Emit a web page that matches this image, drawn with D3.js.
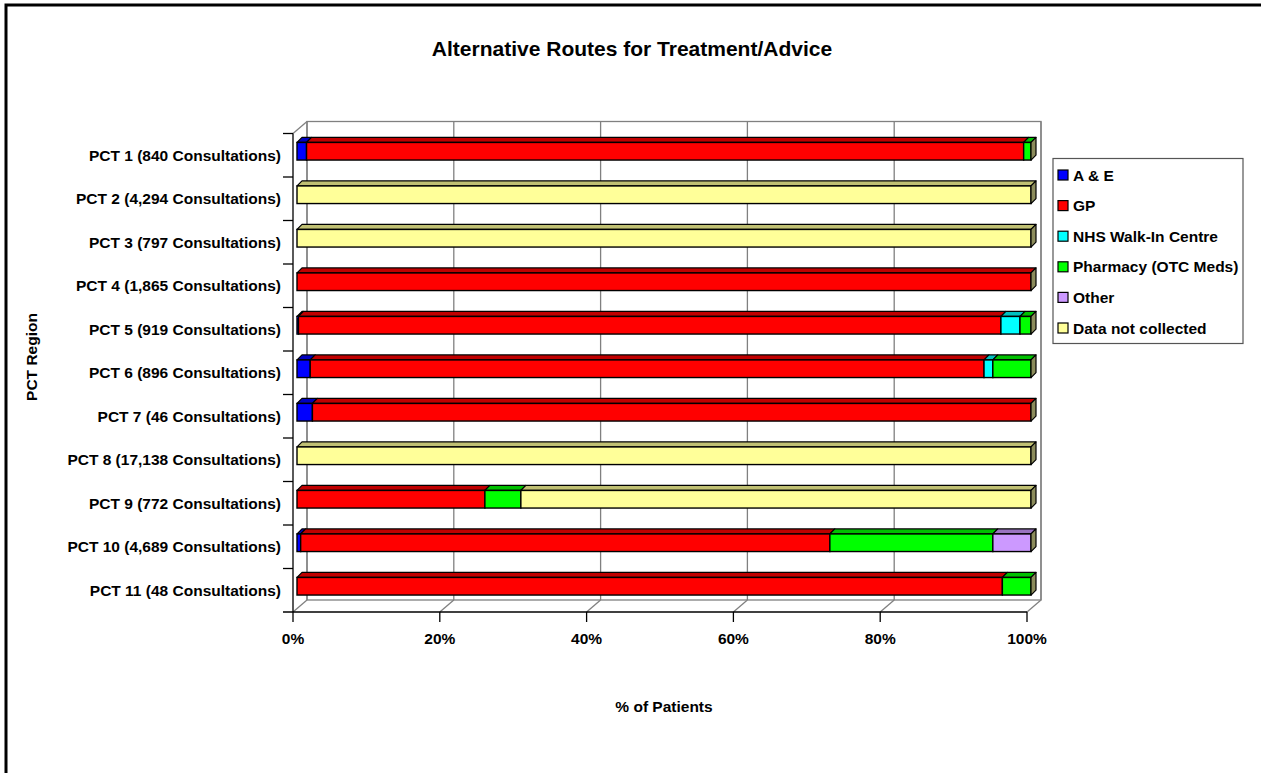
<!DOCTYPE html>
<html><head><meta charset="utf-8">
<script src="https://cdn.jsdelivr.net/npm/d3@7"></script>
<style>body{margin:0;background:#fff}svg{display:block}text{font-family:Arial,"Liberation Sans",sans-serif;font-weight:bold;fill:#000}</style>
</head><body>
<svg id="c" width="1261" height="773"></svg>
<script>
const categories = ["PCT 1 (840 Consultations)","PCT 2 (4,294 Consultations)","PCT 3 (797 Consultations)","PCT 4 (1,865 Consultations)","PCT 5 (919 Consultations)","PCT 6 (896 Consultations)","PCT 7 (46 Consultations)","PCT 8 (17,138 Consultations)","PCT 9 (772 Consultations)","PCT 10 (4,689 Consultations)","PCT 11 (48 Consultations)"];
const seriesNames = ["A & E","GP","NHS Walk-In Centre","Pharmacy (OTC Meds)","Other","Data not collected"];
const aeVals       = [1.3, 0, 0, 0,   0.2, 1.8, 2.1, 0, 0,    0.5, 0];
const gpVals       = [97.7,0, 0, 100, 95.7,91.8,97.9,0, 25.6, 72.1,96.1];
const walkInVals   = [0,   0, 0, 0,   2.6, 1.2, 0,   0, 0,    0,   0];
const pharmacyVals = [1.0, 0, 0, 0,   1.5, 5.2, 0,   0, 4.9,  22.2,3.9];
const otherVals    = [0,   0, 0, 0,   0,   0,   0,   0, 0,    5.2, 0];
const dncVals      = [0, 100,100, 0,  0,   0,   0, 100, 69.5, 0,   0];
const tickValues = [0,20,40,60,80,100];
const tickLabels = ["0%","20%","40%","60%","80%","100%"];
const titleText = "Alternative Routes for Treatment/Advice";
const xTitle = "% of Patients";
const yTitle = "PCT Region";

const frontColors = ["#0000FF","#FF0000","#00FFFF","#00FF00","#CC99FF","#FFFF99"];
const topColors   = ["#0000C0","#C00000","#00C0C0","#00C000","#9973C0","#C0C073"];
const sideColor = "#8C8C5C";

const svg = d3.select("#c");
const L=293,R=1027,T=133.5,B=612, DX=14, DY=-12;
const x = d3.scaleLinear().domain([0,100]).range([L,R]);
const y = d3.scaleBand().domain(categories).range([T,B]).paddingInner(0);

// frame
svg.append("path").attr("d","M6,773 L6,5 L1261,5").attr("fill","none").attr("stroke","#000").attr("stroke-width",3);

// title
svg.append("text").attr("x",632).attr("y",56).attr("text-anchor","middle").style("font-size","21px").text(titleText);

const g = svg.append("g");
const grey="#808080";
g.append("rect").attr("x",L+DX).attr("y",T+DY).attr("width",R-L).attr("height",B-T).attr("fill","#fff").attr("stroke",grey).attr("stroke-width",1.3);
tickValues.forEach(v=>{
  const xv=x(v);
  g.append("line").attr("x1",xv+DX).attr("x2",xv+DX).attr("y1",T+DY).attr("y2",B+DY).attr("stroke",grey).attr("stroke-width",1.3);
  g.append("line").attr("x1",xv).attr("x2",xv+DX).attr("y1",B).attr("y2",B+DY).attr("stroke",grey).attr("stroke-width",1.3);
});
g.append("line").attr("x1",L).attr("y1",T).attr("x2",L+DX).attr("y2",T+DY).attr("stroke",grey).attr("stroke-width",1.3);

g.append("line").attr("x1",L).attr("x2",L).attr("y1",T).attr("y2",B).attr("stroke","#000").attr("stroke-width",1.3);
g.append("line").attr("x1",L-10).attr("x2",R).attr("y1",B).attr("y2",B).attr("stroke","#000").attr("stroke-width",1.3);
categories.forEach(c=>{
  g.append("line").attr("x1",L-10).attr("x2",L).attr("y1",y(c)).attr("y2",y(c)).attr("stroke","#000").attr("stroke-width",1.3);
});
tickValues.forEach((v,i)=>{
  g.append("line").attr("x1",x(v)).attr("x2",x(v)).attr("y1",B).attr("y2",B+10).attr("stroke","#000").attr("stroke-width",1.3);
  g.append("text").attr("x",x(v)).attr("y",644).attr("text-anchor","middle").style("font-size","15.5px").text(tickLabels[i]);
});
categories.forEach(c=>{
  g.append("text").attr("x",281).attr("y",y(c)+y.bandwidth()/2+5.5).attr("text-anchor","end").style("font-size","15.5px").text(c);
});
svg.append("text").attr("transform","translate(37,357) rotate(-90)").attr("text-anchor","middle").style("font-size","15.5px").text(yTitle);
svg.append("text").attr("x",664).attr("y",712).attr("text-anchor","middle").style("font-size","15.5px").text(xTitle);

const series=[aeVals,gpVals,walkInVals,pharmacyVals,otherVals,dncVals];
const bo=4, bd=5, bh=17.6;
const bars=svg.append("g");
categories.forEach((c,ci)=>{
  const yc=y(c)+y.bandwidth()/2-bo;
  const yt=yc-bh/2, yb=yc+bh/2;
  let acc=0;
  series.forEach((s,si)=>{
    const v=s[ci]; if(v<=0) return;
    const x0=x(acc)+bo, x1=x(acc+v)+bo; acc+=v;
    bars.append("path").attr("d",`M${x0},${yt} L${x0+bd},${yt-bd} L${x1+bd},${yt-bd} L${x1},${yt} Z`)
      .attr("fill",topColors[si]).attr("stroke","#000").attr("stroke-width",1.2).attr("stroke-linejoin","round");
    bars.append("rect").attr("x",x0).attr("y",yt).attr("width",x1-x0).attr("height",bh)
      .attr("fill",frontColors[si]).attr("stroke","#000").attr("stroke-width",1.4);
  });
  const xe=x(acc)+bo;
  bars.append("path").attr("d",`M${xe},${yt} L${xe+bd},${yt-bd} L${xe+bd},${yb-bd} L${xe},${yb} Z`)
    .attr("fill",sideColor).attr("stroke","#000").attr("stroke-width",1.2).attr("stroke-linejoin","round");
});

const lg=svg.append("g");
lg.append("rect").attr("x",1053).attr("y",158.5).attr("width",190).attr("height",185).attr("fill","#fff").attr("stroke","#555").attr("stroke-width",1.2);
seriesNames.forEach((n,i)=>{
  const cy=175+i*30.6;
  lg.append("rect").attr("x",1058).attr("y",cy-5).attr("width",10).attr("height",10).attr("fill",frontColors[i]).attr("stroke","#000").attr("stroke-width",1.2);
  lg.append("text").attr("x",1073).attr("y",cy+5.5).style("font-size","15.5px").text(n);
});
</script>
</body></html>
